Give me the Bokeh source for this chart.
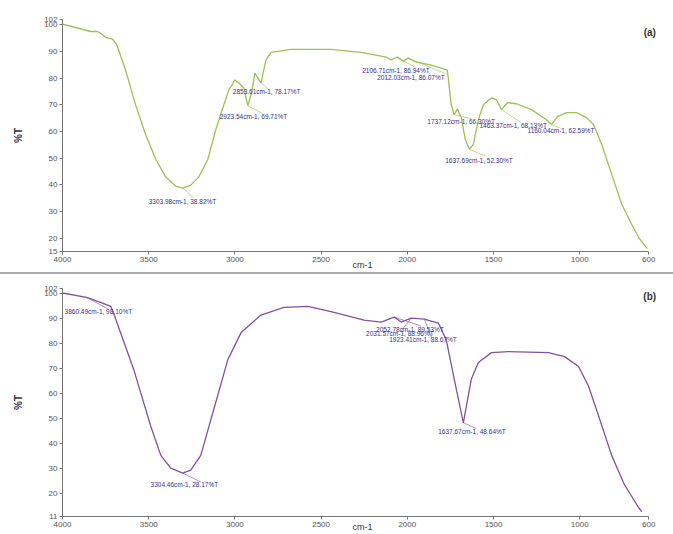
from bokeh.plotting import figure
from bokeh.models import Range1d, FixedTicker, Label, Div, ColumnDataSource
from bokeh.layouts import column
from bokeh.embed import file_html
from bokeh.resources import INLINE
from bokeh.core.properties import value

x_ticks = [4000, 3500, 3000, 2500, 2000, 1500, 1000, 600]
a_y_ticks = [15, 20, 30, 40, 50, 60, 70, 80, 90, 100, 102]
b_y_ticks = [11, 20, 30, 40, 50, 60, 70, 80, 90, 100, 102]

# spectrum (a)
a_wn = [4000, 3924, 3837, 3797, 3779, 3750, 3709, 3686, 3634, 3576, 3518, 3459, 3401, 3343,
        3303, 3256, 3210, 3157, 3111, 3070, 3035, 3000, 2977, 2948, 2925, 2902, 2884, 2867,
        2849, 2820, 2791, 2675, 2442, 2268, 2123, 2094, 2059, 2024, 1995, 1948, 1861, 1803,
        1768, 1745, 1728, 1710, 1687, 1664, 1640, 1617, 1588, 1559, 1512, 1483, 1454, 1419,
        1367, 1280, 1193, 1164, 1129, 1077, 1018, 960, 920, 873, 815, 757, 701, 654, 608]
a_t = [100.3, 99.0, 97.5, 97.5, 96.8, 95.3, 94.6, 92.7, 83.0, 70.0, 58.9, 49.6, 42.9, 39.5,
       38.8, 39.9, 42.9, 49.6, 60.7, 68.9, 75.6, 79.3, 78.2, 76.3, 69.7, 74.9, 81.9, 80.1,
       78.2, 86.8, 89.7, 90.8, 90.8, 89.7, 87.9, 86.8, 87.9, 86.4, 87.5, 86.0, 84.9, 83.8,
       83.0, 70.0, 66.3, 68.5, 65.2, 57.0, 53.3, 55.2, 64.4, 70.0, 72.6, 71.9, 68.2, 70.8,
       70.4, 68.2, 64.4, 62.6, 65.6, 67.1, 67.1, 65.2, 62.6, 55.2, 44.0, 32.8, 25.4, 19.8, 16.1]

# spectrum (b)
b_wn = [4000, 3861, 3779, 3721, 3704, 3587, 3489, 3430, 3372, 3303, 3256, 3198, 3122, 3041,
        2965, 2849, 2716, 2576, 2425, 2251, 2152, 2076, 2036, 1977, 1902, 1820, 1774, 1728,
        1675, 1629, 1588, 1512, 1414, 1181, 1088, 1007, 949, 891, 815, 740, 658, 641]
b_t = [100.2, 98.5, 96.5, 94.9, 92.2, 69.7, 47.2, 35.4, 30.3, 28.3, 29.5, 35.4, 53.9, 73.6,
       84.3, 91.4, 94.5, 94.9, 92.5, 89.4, 88.6, 90.6, 88.6, 90.2, 89.8, 88.2, 81.5, 65.8,
       48.4, 65.8, 72.5, 76.4, 76.8, 76.4, 74.8, 70.9, 63.0, 51.2, 35.4, 23.6, 14.5, 13.0]

# peak annotations (a)
a_pk_wn = [3303, 2849, 2925, 2059, 1995, 1728, 1454, 1164, 1640]
a_pk_t = [38.8, 78.2, 69.7, 87.9, 87.5, 66.3, 68.2, 62.6, 53.3]
a_pk_text = ["3303.98cm-1, 38.82%T", "2853.61cm-1, 78.17%T", "2923.54cm-1, 69.71%T",
             "2106.71cm-1, 86.94%T", "2012.03cm-1, 86.07%T", "1737.12cm-1, 66.30%T",
             "1463.37cm-1, 68.13%T", "1160.04cm-1, 62.59%T", "1637.69cm-1, 52.30%T"]
a_lb_wn = [3500, 3012, 3088, 2262, 2175, 1884, 1582, 1303, 1780]
a_lb_t = [33.6, 74.9, 65.6, 82.7, 80.4, 63.7, 62.2, 60.4, 49.2]
a_ld_wn = [3244, 2803, 2838, 1948, 1774, 1629, 1338, 1106, 1542]
a_ld_t = [35.4, 75.6, 66.7, 83.8, 81.6, 64.8, 63.3, 61.1, 50.7]

# peak annotations (b)
b_pk_wn = [3861, 3303, 2076, 1977, 1902, 1675]
b_pk_t = [98.5, 28.3, 90.6, 90.2, 89.8, 48.4]
b_pk_text = ["3860.49cm-1, 98.10%T", "3304.46cm-1, 28.17%T", "2052.78cm-1, 89.53%T",
             "2031.57cm-1, 88.96%T", "1923.41cm-1, 88.67%T", "1637.67cm-1, 48.64%T"]
b_lb_wn = [3988, 3489, 2181, 2239, 2105, 1821]
b_lb_t = [92.9, 23.6, 85.8, 83.9, 81.5, 44.9]
b_ld_wn = [3733, 3198, 1919, 2036, 1861, 1600]
b_ld_t = [93.7, 24.8, 87.0, 85.1, 82.7, 46.1]

W = 673


def make_panel(wn, t, yticks, ylo, color, pk_wn, pk_t, pk_text, lb_wn, lb_t, ld_wn, ld_t,
               tag, tag_y, height, top_border, xlab_standoff):
    p = figure(width=W, height=height, output_backend="svg", toolbar_location=None,
               x_range=Range1d(4000, 520), y_range=Range1d(ylo, 102),
               min_border_left=62, min_border_right=11, min_border_top=top_border,
               min_border_bottom=0)
    p.outline_line_color = None
    p.grid.visible = False
    p.background_fill_color = "white"
    p.border_fill_color = "white"
    for ax in (p.xaxis[0], p.yaxis[0]):
        ax.axis_line_color = "#777777"
        ax.major_tick_line_color = "#777777"
        ax.minor_tick_line_color = None
        ax.major_tick_out = 3
        ax.major_tick_in = 0
        ax.major_label_text_font = "Liberation Sans"
        ax.major_label_text_font_size = "8px"
        ax.major_label_text_color = "#555555"
        ax.major_label_standoff = 2
        ax.axis_label_text_font = "Liberation Sans"
        ax.axis_label_text_font_style = "bold"
        ax.axis_label_text_color = "#333333"
    p.xaxis[0].ticker = FixedTicker(ticks=x_ticks)
    p.xaxis[0].bounds = (600, 4000)
    p.yaxis[0].ticker = FixedTicker(ticks=yticks)
    p.xaxis[0].axis_label = "cm-1"
    p.xaxis[0].axis_label_text_font_size = "9px"
    p.xaxis[0].axis_label_text_font_style = "normal"
    p.xaxis[0].axis_label_standoff = xlab_standoff
    p.yaxis[0].axis_label = "%T"
    p.yaxis[0].axis_label_text_font_size = "10px"
    p.yaxis[0].axis_label_standoff = 17

    p.line(wn, t, line_color=color, line_width=1.3)
    p.segment(x0=pk_wn, y0=pk_t, x1=ld_wn, y1=ld_t, line_color=color, line_width=0.8,
              line_alpha=0.8)
    src = ColumnDataSource(dict(x=lb_wn, y=lb_t, text=pk_text))
    p.text(x="x", y="y", text="text", source=src, text_font=value("Liberation Sans"),
           text_font_size="6.5px", text_color="#33338f", text_baseline="middle",
           text_align="left")
    p.add_layout(Label(x=594, y=tag_y, text=tag, text_align="center", text_baseline="middle",
                       text_font="Liberation Sans", text_font_style="bold",
                       text_font_size="10px", text_color="#333333"))
    return p


pa = make_panel(a_wn, a_t, a_y_ticks, 15, "#9cc155", a_pk_wn, a_pk_t, a_pk_text,
                a_lb_wn, a_lb_t, a_ld_wn, a_ld_t, "(a)", 97.2, 272, 19, -5)
sep = Div(width=W, height=2, styles={"background-color": "#aaaaaa"}, margin=0)
pb = make_panel(b_wn, b_t, b_y_ticks, 11, "#84529c", b_pk_wn, b_pk_t, b_pk_text,
                b_lb_wn, b_lb_t, b_ld_wn, b_ld_t, "(b)", 98.8, 260, 14, -8)

layout = column(pa, sep, pb, spacing=0)
open("out.html", "w").write(file_html(layout, INLINE))
